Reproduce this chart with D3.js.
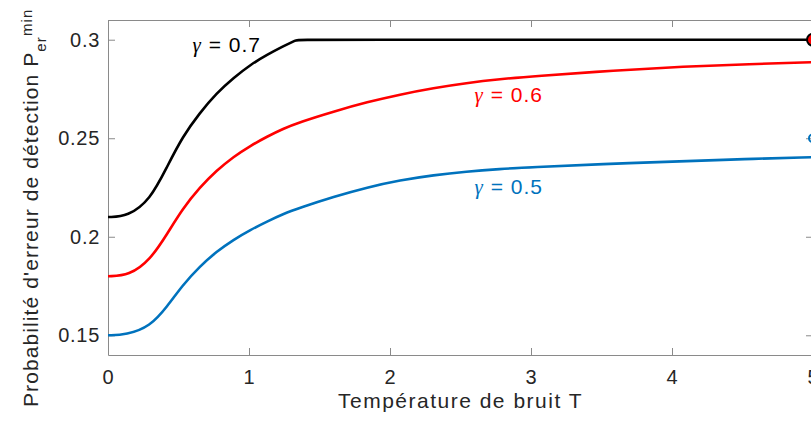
<!DOCTYPE html>
<html>
<head>
<meta charset="utf-8">
<script src="https://cdn.jsdelivr.net/npm/d3@7"></script>
<style>
  body { margin: 0; background: #fff; }
  svg { display: block; font-family: "Liberation Sans", Arial, sans-serif; }
  .axis path, .axis line { stroke: #8a8a8a; }
  .axis text { fill: #262626; font-size: 20px; letter-spacing: 0.7px; }
  .axis-label { fill: #262626; font-size: 21px; letter-spacing: 1.5px; }
</style>
</head>
<body>
<svg width="811" height="421"></svg>
<script>
// gamma = 0.7
const tBlack = [0, 0.14, 0.30, 0.42, 0.53, 0.65, 0.77, 0.89, 1.01, 1.13, 1.24, 1.34, 1.34, 5];
const pBlack = [0.21, 0.2103, 0.2188, 0.2357, 0.2509, 0.2628, 0.2729, 0.2806, 0.2873, 0.2924, 0.2966, 0.3, 0.3, 0.3];

// gamma = 0.6
const tRed = [0, 0.15, 0.30, 0.42, 0.53, 0.65, 0.77, 0.89, 1.01, 1.13, 1.24, 1.36, 1.6, 1.84, 2.07, 2.31, 2.54, 2.78, 3.02, 3.6, 4.08, 4.55, 5];
const pRed = [0.18, 0.1803, 0.1883, 0.2015, 0.2143, 0.2250, 0.2336, 0.2406, 0.2462, 0.2509, 0.2548, 0.2582, 0.2636, 0.2684, 0.2722, 0.2755, 0.278, 0.28, 0.2815, 0.2844, 0.2864, 0.2876, 0.2886];

// gamma = 0.5
const tBlue = [0, 0.13, 0.30, 0.42, 0.53, 0.65, 0.77, 0.89, 1.01, 1.13, 1.24, 1.36, 1.6, 1.84, 2.07, 2.31, 2.54, 2.78, 3.0, 3.5, 4.08, 4.5, 5];
const pBlue = [0.15, 0.1502, 0.1545, 0.1646, 0.1755, 0.1849, 0.1925, 0.1985, 0.2035, 0.2078, 0.2115, 0.2147, 0.2203, 0.2251, 0.2287, 0.2313, 0.2331, 0.2344, 0.2353, 0.2369, 0.2383, 0.2394, 0.2404];

const xTicks = [0, 1, 2, 3, 4, 5];
const yTicks = [0.15, 0.2, 0.25, 0.3];

// curve labels (data coords of text start)
const labelText = ["0.7", "0.6", "0.5"];
const labelT = [0.6, 2.6, 2.6];
const labelP = [0.294, 0.2685, 0.2218];

// end markers
const markT = [5, 5];
const markP = [0.3, 0.25];

const svg = d3.select("svg"),
  margin = { top: 20, left: 108 },
  width = 705,
  height = 335;

const x = d3.scaleLinear().domain([0, 5]).range([margin.left, margin.left + width]),
  y = d3.scaleLinear().domain([0.14, 0.31]).range([margin.top + height, margin.top]);

const series = [
  { t: tBlack, p: pBlack, color: "#000000" },
  { t: tRed, p: pRed, color: "#ff0000" },
  { t: tBlue, p: pBlue, color: "#0072bd" }
];

// axes box with inward ticks
svg.append("g")
  .attr("class", "axis")
  .attr("transform", `translate(0,${margin.top + height})`)
  .call(d3.axisBottom(x).tickValues(xTicks).tickSizeInner(-7).tickSizeOuter(0).tickFormat(d3.format("d")))
  .call((g) => g.selectAll("text").attr("y", 29).attr("dy", 0));

svg.append("g")
  .attr("class", "axis")
  .attr("transform", `translate(0,${margin.top})`)
  .call(d3.axisTop(x).tickValues(xTicks).tickSizeInner(-7).tickSizeOuter(0).tickFormat(""));

svg.append("g")
  .attr("class", "axis")
  .attr("transform", `translate(${margin.left},0)`)
  .call(d3.axisLeft(y).tickValues(yTicks).tickSizeInner(-7).tickSizeOuter(0).tickFormat(d3.format("")))
  .call((g) => g.selectAll("text").attr("x", -8));

svg.append("g")
  .attr("class", "axis")
  .attr("transform", `translate(${margin.left + width},0)`)
  .call(d3.axisRight(y).tickValues(yTicks).tickSizeInner(-7).tickSizeOuter(0).tickFormat(""));

svg.selectAll(".axis text").attr("font-family", null).attr("font-size", null);

// curves
const line = d3.line()
  .x((d) => x(d[0]))
  .y((d) => y(d[1]))
  .curve(d3.curveBasis);

svg.append("g")
  .selectAll("path")
  .data(series)
  .enter()
  .append("path")
  .attr("fill", "none")
  .attr("stroke", (d) => d.color)
  .attr("stroke-width", 2.6)
  .attr("d", (d) => line(d.t.map((t, i) => [t, d.p[i]])));

// markers at T = 5
svg.append("circle")
  .attr("cx", x(markT[0]))
  .attr("cy", y(markP[0]))
  .attr("r", 6)
  .attr("fill", "#ff0000")
  .attr("stroke", "#000")
  .attr("stroke-width", 2);

svg.append("circle")
  .attr("cx", x(markT[1]))
  .attr("cy", y(markP[1]))
  .attr("r", 4)
  .attr("fill", "none")
  .attr("stroke", "#0072bd")
  .attr("stroke-width", 2);

// gamma labels
const labels = svg.append("g")
  .selectAll("text")
  .data(labelText)
  .enter()
  .append("text")
  .attr("x", (d, i) => x(labelT[i]))
  .attr("y", (d, i) => y(labelP[i]))
  .attr("fill", (d, i) => series[i].color)
  .attr("font-size", 21)
  .attr("letter-spacing", "1px");

labels.append("tspan")
  .attr("font-family", "'Liberation Serif', serif")
  .attr("font-style", "italic")
  .text("\u03b3");
labels.append("tspan")
  .text((d) => ` = ${d}`);

// axis labels
svg.append("text")
  .attr("class", "axis-label")
  .attr("x", x(2.5))
  .attr("y", 408)
  .attr("text-anchor", "middle")
  .text("Température de bruit T");

const yl = svg.append("text")
  .attr("class", "axis-label")
  .attr("transform", "translate(38,407) rotate(-90)")
  .attr("text-anchor", "start")
  .style("letter-spacing", "1.1px");
yl.append("tspan").text("Probabilité d'erreur de détection P");
yl.append("tspan").attr("font-size", 15).attr("dy", 8).text("er");
yl.append("tspan").attr("font-size", 15).attr("dy", -14).text("min");
</script>
</body>
</html>
